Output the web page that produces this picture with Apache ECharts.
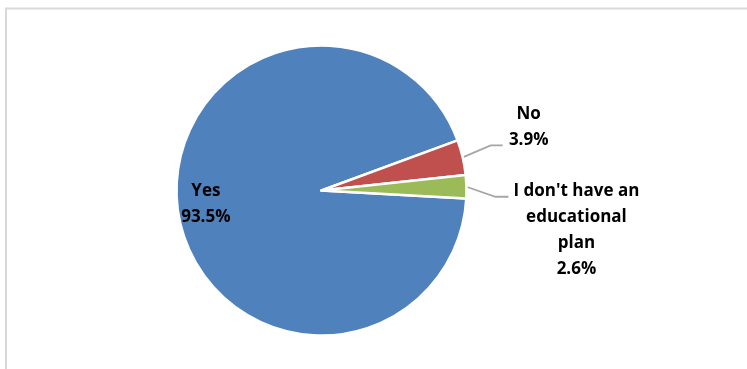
<!DOCTYPE html>
<html>
<head>
<meta charset="utf-8">
<script src="https://cdn.jsdelivr.net/npm/echarts@6/dist/echarts.min.js"></script>
<style>
  html, body { margin: 0; padding: 0; background: #fff; }
  #chart { width: 747px; height: 369px; }
</style>
</head>
<body>
<div id="chart"></div>
<script>
const categories = ['Yes', 'No', "I don't have an\neducational\nplan"];
const values = [93.5, 3.9, 2.6];
const colors = ['#4f81bd', '#c0504d', '#9bbb59'];

const chart = echarts.init(document.getElementById('chart'), null, { renderer: 'canvas' });

const data = categories.map((name, i) => ({
  name: name,
  value: values[i],
  itemStyle: { color: colors[i] },
  label: i === 0 ? { position: 'inside' } : { position: 'outside' },
  labelLine: { show: i !== 0 }
}));

chart.setOption({
  animation: false,
  backgroundColor: '#fff',
  graphic: [{
    type: 'rect',
    shape: { x: 6, y: 8.5, width: 800, height: 400 },
    style: { fill: 'none', stroke: '#d9d9d9', lineWidth: 2 },
    silent: true
  }],
  series: [{
    type: 'pie',
    center: [321.5, 190.5],
    radius: 145,
    startAngle: 356.8,
    clockwise: true,
    avoidLabelOverlap: false,
    silent: true,
    itemStyle: { borderColor: '#fff', borderWidth: 2.5 },
    label: {
      show: true,
      color: '#000',
      fontFamily: 'Open Sans',
      fontWeight: 'bold',
      fontSize: 17,
      lineHeight: 26,
      align: 'center',
      formatter: p => p.name + '\n' + p.value.toFixed(1) + '%'
    },
    labelLine: {
      lineStyle: { color: '#a6a6a6', width: 1.8 },
      length: 20,
      length2: 12
    },
    labelLayout: function (params) {
      if (params.dataIndex === 0) {
        return { dx: -41, dy: 2 };
      }
      const p0 = params.labelLinePoints[0];
      if (params.dataIndex === 1) {
        return {
          x: p0[0] + 66, y: p0[1] - 30, align: 'center', verticalAlign: 'middle',
          labelLinePoints: [p0, [p0[0] + 28, p0[1] - 12], [p0[0] + 40, p0[1] - 12]]
        };
      }
      return {
        x: p0[0] + 110, y: p0[1] + 43, align: 'center', verticalAlign: 'middle',
        labelLinePoints: [p0, [p0[0] + 29, p0[1] + 10], [p0[0] + 42, p0[1] + 10]]
      };
    },
    data: data
  }]
});
</script>
</body>
</html>
